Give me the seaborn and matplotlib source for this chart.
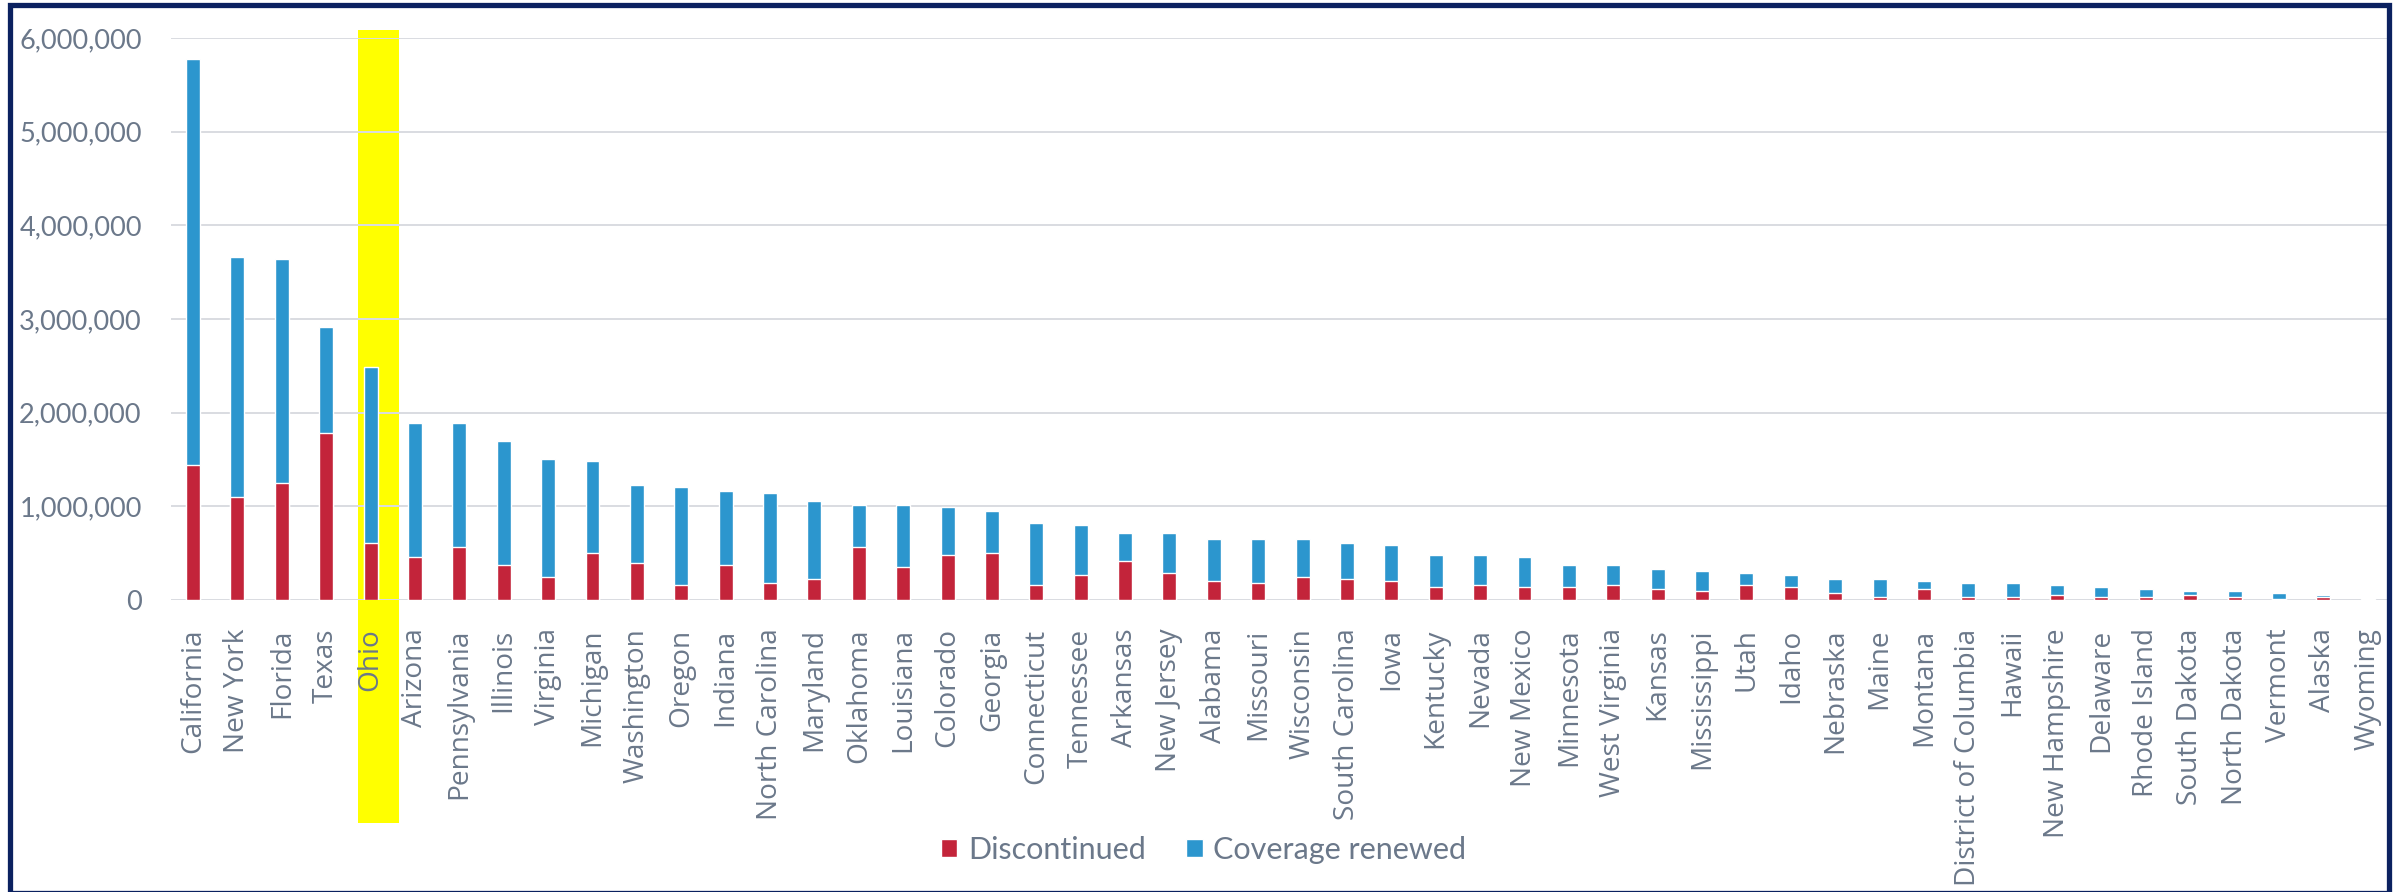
import numpy as np
import pandas as pd
import seaborn as sns
import matplotlib.pyplot as plt
import matplotlib.transforms as mtransforms
from matplotlib.patches import Patch, Rectangle
from matplotlib.ticker import FuncFormatter

# values, in millions
states = ["California", "New York", "Florida", "Texas", "Ohio", "Arizona", "Pennsylvania",
          "Illinois", "Virginia", "Michigan", "Washington", "Oregon", "Indiana",
          "North Carolina", "Maryland", "Oklahoma", "Louisiana", "Colorado", "Georgia",
          "Connecticut", "Tennessee", "Arkansas", "New Jersey", "Alabama", "Missouri",
          "Wisconsin", "South Carolina", "Iowa", "Kentucky", "Nevada", "New Mexico",
          "Minnesota", "West Virginia", "Kansas", "Mississippi", "Utah", "Idaho",
          "Nebraska", "Maine", "Montana", "District of Columbia", "Hawaii",
          "New Hampshire", "Delaware", "Rhode Island", "South Dakota", "North Dakota",
          "Vermont", "Alaska", "Wyoming"]
discontinued = [1.440, 1.098, 1.250, 1.782, 0.608, 0.456, 0.566, 0.372, 0.245, 0.498,
                0.395, 0.157, 0.372, 0.179, 0.222, 0.565, 0.350, 0.479, 0.501, 0.157,
                0.265, 0.415, 0.286, 0.200, 0.179, 0.243, 0.221, 0.200, 0.136, 0.157,
                0.136, 0.136, 0.157, 0.114, 0.093, 0.156, 0.135, 0.071, 0.028, 0.113,
                0.028, 0.028, 0.050, 0.028, 0.028, 0.050, 0.028, 0.005, 0.028, 0.002]
renewed = [4.337, 2.563, 2.390, 1.132, 1.879, 1.432, 1.322, 1.326, 1.258, 0.984,
           0.833, 1.051, 0.794, 0.965, 0.836, 0.450, 0.665, 0.515, 0.450, 0.665,
           0.536, 0.300, 0.429, 0.450, 0.471, 0.407, 0.386, 0.386, 0.343, 0.322,
           0.321, 0.235, 0.214, 0.215, 0.213, 0.129, 0.127, 0.149, 0.192, 0.086,
           0.149, 0.149, 0.106, 0.107, 0.085, 0.042, 0.064, 0.066, 0.022, 0.004]
highlight = "Ohio"

red = "#C3243A"
blue = "#2C96CE"
txt = "#6B788A"
grid = "#D9DCE1"
navy = "#0B2160"

df = pd.DataFrame({"state": states,
                   "Discontinued": np.array(discontinued) * 1e6,
                   "Coverage renewed": np.array(renewed) * 1e6})
df["total"] = df["Discontinued"] + df["Coverage renewed"]

sns.set_style("white")
plt.rcParams["font.family"] = ["Lato", "DejaVu Sans"]

fig = plt.figure(figsize=(24.07, 8.92), dpi=100)
ax = fig.add_axes([0.0710, 0.3274, 0.9219, 0.6300])

# blue = full bar height, red drawn over the lower part
sns.barplot(data=df, x="state", y="total", color=blue, width=0.315,
            saturation=1, ax=ax, zorder=2)
sns.barplot(data=df, x="state", y="Discontinued", color=red, width=0.315,
            saturation=1, ax=ax, zorder=3)

ax.set_ylim(0, 6e6)
ax.set_xlim(-0.5, len(states) - 0.5)
ax.set_yticks(np.arange(0, 6e6 + 1, 1e6))
ax.yaxis.set_major_formatter(FuncFormatter(lambda v, p: f"{v:,.0f}"))
ax.set_axisbelow(True)
ax.yaxis.grid(True, color=grid, lw=1.4)
sns.despine(ax=ax, left=True, bottom=True)
ax.set_xlabel("")
ax.set_ylabel("")
ax.tick_params(axis="y", length=0, pad=21, labelsize=19.5, labelcolor=txt)
ax.tick_params(axis="x", length=0, pad=20.5, labelsize=20.2, labelcolor=txt)
plt.setp(ax.get_xticklabels(), rotation=90, ha="center", va="top",
         family=["Open Sans", "DejaVu Sans"])

# yellow highlight behind Ohio
i = states.index(highlight)
trans = mtransforms.blended_transform_factory(ax.transData, fig.transFigure)
ax.add_patch(Rectangle((i - 0.29, 0.0774), 0.92, 0.8885, transform=trans,
                       facecolor="#FFFF00", edgecolor="none", zorder=0.1, clip_on=False))

handles = [Patch(facecolor=red, label="Discontinued"),
           Patch(facecolor=blue, label="Coverage renewed")]
fig.legend(handles=handles, loc="center", bbox_to_anchor=(0.5, 0.047), ncol=2,
           frameon=False, fontsize=22, labelcolor=txt, handlelength=0.55,
           handleheight=0.55, handletextpad=0.35, columnspacing=1.3)

# dark outline round the whole chart
fig.add_artist(Rectangle((9.5 / 2407, -0.5 / 892), 2379.5 / 2407, 888 / 892,
                         transform=fig.transFigure, fill=False, edgecolor=navy, lw=3.8))

fig.savefig("out.png", dpi=100)
